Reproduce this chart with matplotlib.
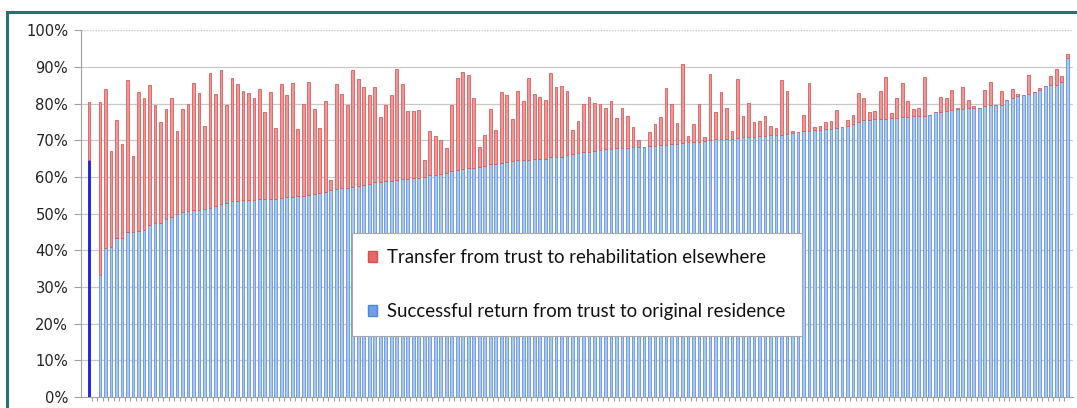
import numpy as np
import matplotlib
matplotlib.use("Agg")
import matplotlib.pyplot as plt
from matplotlib.patches import Patch, Rectangle
from matplotlib.ticker import FuncFormatter, MultipleLocator

# Share of patients (%) returned to original residence (blue) and the combined
# top of the stacked bar (blue + red transfer share). Slot 1 is an empty gap.
returned = [
    64.5, np.nan, 33.3, 40.5, 41.0, 43.3, 43.3, 45.1, 45.1, 45.2,
    45.5, 46.9, 47.3, 47.5, 48.5, 49.0, 50.0, 50.3, 50.8, 51.0,
    51.0, 51.3, 51.5, 52.0, 52.5, 53.0, 53.3, 53.5, 53.6, 53.7,
    53.8, 53.9, 53.9, 54.0, 54.0, 54.2, 54.4, 54.5, 54.7, 54.9,
    55.2, 55.4, 55.6, 55.9, 56.3, 56.7, 56.9, 57.0, 57.3, 57.5,
    57.7, 58.0, 58.5, 58.7, 58.8, 58.9, 59.1, 59.3, 59.5, 59.6,
    59.8, 60.0, 60.4, 60.6, 60.9, 61.2, 61.6, 61.9, 62.1, 62.3,
    62.5, 62.6, 62.9, 63.5, 63.6, 63.9, 64.1, 64.3, 64.5, 64.6,
    64.7, 64.8, 64.9, 65.0, 65.3, 65.5, 65.5, 65.9, 66.3, 66.5,
    66.7, 66.9, 67.1, 67.3, 67.5, 67.6, 67.8, 67.9, 68.0, 68.1,
    68.2, 68.2, 68.4, 68.5, 68.7, 68.8, 69.0, 69.1, 69.3, 69.4,
    69.5, 69.6, 69.8, 70.0, 70.2, 70.3, 70.4, 70.4, 70.7, 70.8,
    70.9, 71.0, 71.1, 71.2, 71.3, 71.4, 71.5, 71.7, 72.0, 72.3,
    72.5, 72.6, 72.7, 72.8, 73.0, 73.1, 73.3, 73.6, 74.0, 74.5,
    75.1, 75.5, 75.6, 75.7, 75.8, 75.9, 76.0, 76.1, 76.2, 76.4,
    76.5, 76.5, 76.7, 77.0, 77.6, 77.8, 78.0, 78.2, 78.4, 78.5,
    78.7, 78.9, 78.9, 79.3, 79.5, 79.5, 79.7, 81.1, 81.6, 82.1,
    82.3, 82.7, 83.2, 83.8, 84.7, 85.0, 85.1, 86.0, 92.4,
]
combined = [
    80.3, np.nan, 80.5, 83.9, 67.0, 75.5, 69.0, 86.4, 65.8, 83.1,
    81.5, 85.0, 79.7, 75.0, 78.5, 81.4, 72.5, 78.5, 79.8, 85.7,
    83.0, 73.9, 88.2, 82.5, 89.1, 79.5, 87.1, 85.2, 83.5, 83.0,
    81.4, 84.0, 77.6, 83.1, 73.3, 85.4, 82.3, 85.5, 73.1, 79.9,
    86.0, 78.5, 73.4, 80.8, 59.2, 85.4, 82.5, 79.7, 89.1, 86.7,
    84.6, 82.2, 84.6, 76.2, 79.5, 82.2, 89.3, 85.4, 77.9, 78.0,
    78.3, 64.7, 72.4, 71.1, 70.0, 67.8, 79.5, 87.0, 88.5, 87.8,
    81.5, 68.2, 71.4, 78.5, 72.9, 83.1, 82.2, 75.8, 83.5, 80.8,
    86.9, 82.5, 81.7, 80.9, 88.3, 84.5, 84.8, 83.4, 72.9, 75.3,
    80.0, 81.7, 80.1, 79.9, 78.7, 80.7, 76.1, 78.9, 76.7, 73.5,
    70.1, 68.2, 72.3, 74.5, 76.3, 84.2, 79.8, 74.6, 90.7, 71.1,
    74.4, 79.9, 70.8, 88.1, 77.6, 83.1, 78.9, 72.5, 86.7, 76.5,
    80.2, 75.1, 75.3, 76.6, 73.9, 73.2, 86.4, 83.5, 72.6, 72.3,
    77.0, 85.5, 73.6, 73.9, 75.0, 75.2, 78.3, 73.6, 75.4, 76.8,
    83.0, 81.5, 77.8, 78.1, 83.5, 87.3, 77.3, 81.6, 85.7, 80.7,
    78.5, 78.8, 87.3, 77.0, 77.6, 81.9, 81.5, 83.8, 78.7, 84.5,
    81.0, 79.3, 78.9, 83.6, 85.8, 79.5, 83.5, 81.1, 84.0, 82.5,
    82.3, 87.8, 83.2, 84.2, 84.7, 87.5, 89.3, 87.5, 93.4,
]
highlight_index = 0
legend_labels = ["Transfer from trust to rehabilitation elsewhere",
                 "Successful return from trust to original residence"]

returned = np.array(returned, dtype=float)
combined = np.array(combined, dtype=float)
transferred = combined - returned
x = np.arange(len(returned))

blue_face = "#a9c7f0"
blue_edge = "#6294dc"
red_face = "#ef9696"
red_edge = "#dc5c5c"

fig = plt.figure(figsize=(10.77, 4.08), dpi=100)
ax = fig.add_axes([0.075, 0.027, 0.921, 0.899])

blue_colors = [blue_face] * len(x)
blue_edges = [blue_edge] * len(x)
blue_colors[highlight_index] = "#2424e6"
blue_edges[highlight_index] = "#1a1ad0"

ax.bar(x, returned, width=0.5, color=blue_colors, edgecolor=blue_edges,
       linewidth=0.6, zorder=3)
ax.bar(x, transferred, bottom=returned, width=0.5, color=red_face,
       edgecolor=red_edge, linewidth=0.6, zorder=3)

ax.set_xlim(-1.5, len(x))
ax.set_ylim(0, 100)
ax.yaxis.set_major_locator(MultipleLocator(10))
ax.yaxis.set_major_formatter(FuncFormatter(lambda v, p: f"{int(round(v))}%"))
for v in range(10, 100, 10):
    ax.axhline(v, color="#c8c8c8", linewidth=0.9, zorder=0)
ax.axhline(100, color="#c8c8c8", linewidth=1.0, linestyle=(0, (1, 1)), zorder=0)

for s in ["top", "right"]:
    ax.spines[s].set_visible(False)
ax.spines["left"].set_color("#a0a0a0")
ax.spines["bottom"].set_color("#a0a0a0")
ax.tick_params(axis="y", direction="out", length=5, color="#a0a0a0",
               labelsize=10.6, labelcolor="#222222", pad=4)
ax.set_xticks(x[:-1] + 0.5)
ax.tick_params(axis="x", direction="out", length=3, color="#a0a0a0",
               labelbottom=False)

handles = [Patch(facecolor="#e46a6a", edgecolor="#d55050"),
           Patch(facecolor="#6f9fe4", edgecolor="#4f86d6")]
leg = ax.legend(handles, legend_labels, loc="upper left",
                bbox_to_anchor=(0.273, 0.447), frameon=True, fancybox=False,
                framealpha=1, edgecolor="#a8a8a8", handlelength=0.5,
                handleheight=0.5, handletextpad=0.55, labelspacing=1.97,
                borderpad=0.87, borderaxespad=0,
                prop={"family": "Lato", "size": 13.4})
leg.get_frame().set_linewidth(0.8)
for t in leg.get_texts():
    t.set_color("#111111")
leg.set_zorder(5)

frame = Rectangle((7 / 1077, -0.1), 1.2, (408 - 12) / 408 + 0.1,
                  transform=fig.transFigure, fill=False,
                  edgecolor="#237372", linewidth=2.2, clip_on=False)
fig.patches.append(frame)

fig.savefig("out.png", dpi=100)
